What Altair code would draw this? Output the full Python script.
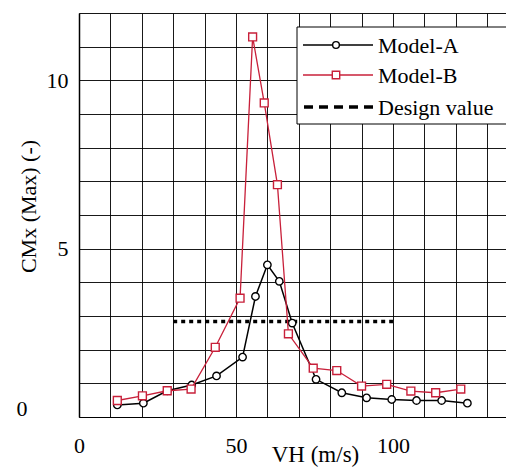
import altair as alt
import pandas as pd

# ---- data ----
vh_a = [12.2, 20.5, 28.1, 35.9, 43.8, 52.1, 56.2, 60.0, 63.8, 67.9, 75.5, 83.7, 91.6, 99.6, 107.5, 115.5, 123.7]
cmx_a = [0.36, 0.41, 0.78, 0.95, 1.22, 1.78, 3.58, 4.52, 4.03, 2.79, 1.12, 0.72, 0.57, 0.52, 0.49, 0.49, 0.41]
vh_b = [12.2, 20.2, 28.1, 35.7, 43.4, 51.3, 55.3, 59.0, 63.2, 66.7, 74.6, 82.1, 90.0, 98.0, 105.7, 113.6, 121.6]
cmx_b = [0.49, 0.63, 0.78, 0.83, 2.07, 3.53, 11.29, 9.33, 6.90, 2.47, 1.45, 1.38, 0.92, 0.97, 0.77, 0.72, 0.83]
design_vh = [30, 100]
design_cmx = [2.84, 2.84]
legend_labels = ["Model-A", "Model-B", "Design value"]
x_ticks = list(range(0, 140, 10))
y_ticks = list(range(0, 13, 1))

RED = "#c8203a"
FONT = "Liberation Serif, Times New Roman, serif"

df_a = pd.DataFrame({"vh": vh_a, "cmx": cmx_a})
df_b = pd.DataFrame({"vh": vh_b, "cmx": cmx_b})
df_d = pd.DataFrame({"vh": design_vh, "cmx": design_cmx})

xenc = alt.X(
    "vh:Q",
    scale=alt.Scale(domain=[0, 136], nice=False, zero=True),
    axis=alt.Axis(
        values=x_ticks,
        labelExpr="datum.value % 50 == 0 ? datum.label : ''",
        title="VH (m/s)",
        grid=True, gridColor="#000", gridOpacity=0.9, gridWidth=1,
        ticks=False, tickSize=0,
        domain=True, domainColor="#000", domainWidth=1.2,
        labelFont=FONT, labelFontSize=22, labelColor="#000",
        labelBaseline="alphabetic", labelPadding=35, labelFlush=False,
        labelOverlap=False,
        titleFont=FONT, titleFontSize=23, titleFontWeight="normal", titleColor="#000",
        titleX=236, titleY=44, titleBaseline="alphabetic", titleAlign="center",
    ),
)
yenc = alt.Y(
    "cmx:Q",
    scale=alt.Scale(domain=[0, 12], nice=False),
    axis=alt.Axis(
        values=y_ticks,
        labelExpr="datum.value % 5 == 0 ? datum.label : ''",
        title="CMx (Max) (-)",
        grid=True, gridColor="#000", gridOpacity=0.9, gridWidth=1,
        ticks=False, tickSize=0,
        domain=True, domainColor="#000", domainWidth=1.5,
        labelFont=FONT, labelFontSize=22, labelColor="#000",
        labelAlign="right", labelBaseline="middle",
        labelPadding={"condition": {"test": "datum.value == 0", "value": 52}, "value": 11},
        labelOffset={"condition": {"test": "datum.value == 0", "value": -9}, "value": 0},
        labelFlush=False, labelOverlap=False,
        titleFont=FONT, titleFontSize=22, titleFontWeight="normal", titleColor="#000",
        titleX=-51, titleY=193, titleAngle=270, titleBaseline="middle", titleAlign="center",
    ),
)

design = alt.Chart(df_d).mark_line(
    color="#000", strokeWidth=3.5, strokeDash=[4, 4]
).encode(x=xenc, y=yenc)

line_a = alt.Chart(df_a).mark_line(color="#000", strokeWidth=1.5).encode(x=xenc, y=yenc)
pts_a = alt.Chart(df_a).mark_point(
    shape="circle", size=55, filled=True, fill="white", stroke="#000", strokeWidth=1.4, opacity=1
).encode(x=xenc, y=yenc)

line_b = alt.Chart(df_b).mark_line(color=RED, strokeWidth=1.3).encode(x=xenc, y=yenc)
pts_b = alt.Chart(df_b).mark_point(
    shape="square", size=62, filled=True, fill="white", stroke=RED, strokeWidth=1.4, opacity=1
).encode(x=xenc, y=yenc)

# ---- manual legend (box + three entries) ----
one = pd.DataFrame({"k": [0]})
leg_box = alt.Chart(one).mark_rect(fill="white", stroke="#000", strokeWidth=1).encode(
    x=alt.value(218), x2=alt.value(432), y=alt.value(14), y2=alt.value(111)
)
row_y = [32, 62, 94]
leg_layers = [leg_box]
# Model-A
leg_layers.append(alt.Chart(one).mark_rule(color="#000", strokeWidth=1.5).encode(
    x=alt.value(224), x2=alt.value(294), y=alt.value(row_y[0])))
leg_layers.append(alt.Chart(one).mark_point(shape="circle", size=45, filled=True, fill="white",
                                            stroke="#000", strokeWidth=1.4, opacity=1).encode(
    x=alt.value(257), y=alt.value(row_y[0])))
# Model-B
leg_layers.append(alt.Chart(one).mark_rule(color=RED, strokeWidth=1.3).encode(
    x=alt.value(224), x2=alt.value(294), y=alt.value(row_y[1])))
leg_layers.append(alt.Chart(one).mark_point(shape="square", size=55, filled=True, fill="white",
                                            stroke=RED, strokeWidth=1.4, opacity=1).encode(
    x=alt.value(257), y=alt.value(row_y[1])))
# Design value
leg_layers.append(alt.Chart(one).mark_rule(color="#000", strokeWidth=3.5, strokeDash=[9, 6]).encode(
    x=alt.value(225), x2=alt.value(294), y=alt.value(row_y[2])))
for lbl, ry in zip(legend_labels, row_y):
    leg_layers.append(
        alt.Chart(pd.DataFrame({"t": [lbl]})).mark_text(
            font=FONT, fontSize=22, align="left", baseline="middle", color="#000"
        ).encode(x=alt.value(299), y=alt.value(ry + 1), text="t:N")
    )

chart = alt.layer(design, line_a, pts_a, line_b, pts_b, *leg_layers).properties(
    width=427, height=404,
    autosize=alt.AutoSizeParams(type="none"),
    padding={"left": 71, "top": 5, "right": 0, "bottom": 50},
).configure_view(stroke=None).configure(background="white")

chart.save("out.html", embed_options={"renderer": "svg", "actions": False})
